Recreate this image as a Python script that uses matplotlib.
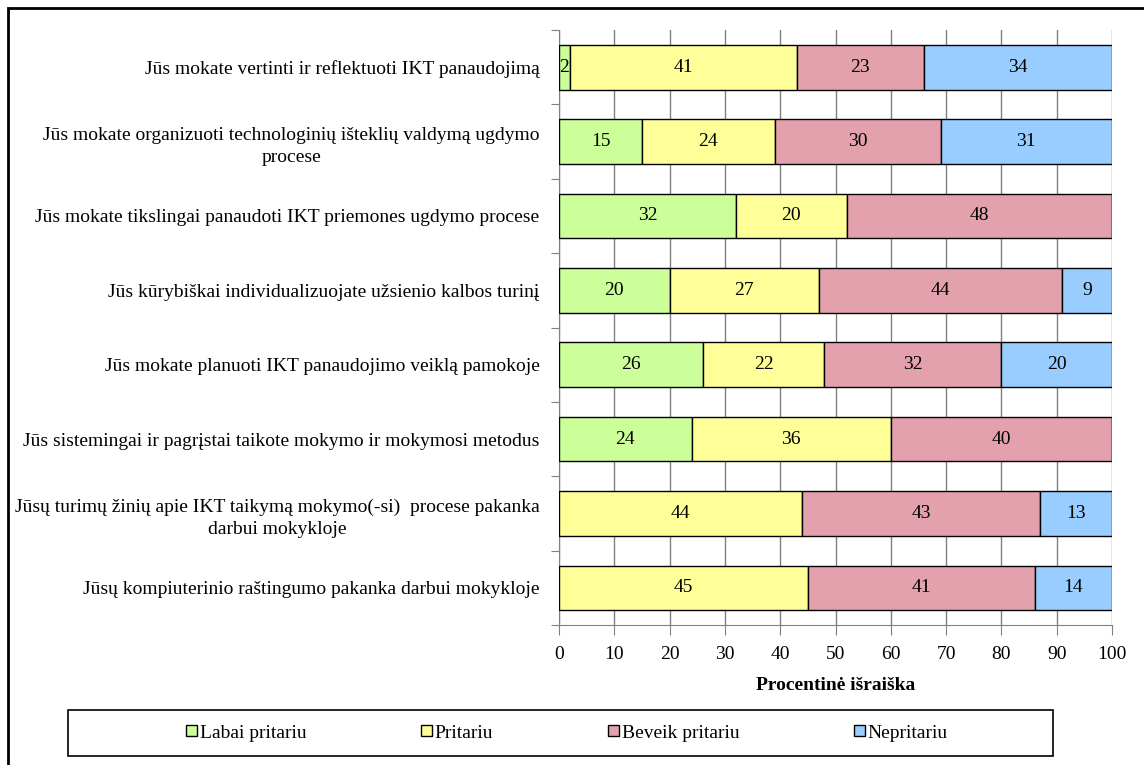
import matplotlib.pyplot as plt
import matplotlib.patches as mpatches
import numpy as np

plt.rcParams['font.family'] = ['Liberation Serif', 'DejaVu Serif']

categories = [
    "Jūs mokate vertinti ir reflektuoti IKT panaudojimą",
    "Jūs mokate organizuoti technologinių išteklių valdymą ugdymo\nprocese",
    "Jūs mokate tikslingai panaudoti IKT priemones ugdymo procese",
    "Jūs kūrybiškai individualizuojate užsienio kalbos turinį",
    "Jūs mokate planuoti IKT panaudojimo veiklą pamokoje",
    "Jūs sistemingai ir pagrįstai taikote mokymo ir mokymosi metodus",
    "Jūsų turimų žinių apie IKT taikymą mokymo(-si)  procese pakanka\ndarbui mokykloje",
    "Jūsų kompiuterinio raštingumo pakanka darbui mokykloje",
]
labai = [2, 15, 32, 20, 26, 24, 0, 0]
pritariu = [41, 24, 20, 27, 22, 36, 44, 45]
beveik = [23, 30, 48, 44, 32, 40, 43, 41]
nepritariu = [34, 31, 0, 9, 20, 0, 13, 14]

series = [labai, pritariu, beveik, nepritariu]
names = ["Labai pritariu", "Pritariu", "Beveik pritariu", "Nepritariu"]
colors = ["#ccff99", "#ffff99", "#e3a1ad", "#99ccff"]

FS = 14

fig = plt.figure(figsize=(11.44, 7.65), dpi=100)
ax = fig.add_axes([559 / 1144, 1 - 625 / 765, 553 / 1144, 595 / 765])

y = np.arange(len(categories))[::-1]
left = np.zeros(len(categories))
handles = []
for vals, name, col in zip(series, names, colors):
    vals = np.array(vals, dtype=float)
    bars = ax.barh(y, vals, left=left, height=0.6, color=col,
                   edgecolor="black", linewidth=1, zorder=3, label=name)
    handles.append(bars)
    for yi, l, v in zip(y, left, vals):
        if v > 0:
            ax.text(l + v / 2, yi, f"{int(v)}", ha="center", va="center",
                    fontsize=FS, zorder=4)
    left += vals

ax.set_xlim(0, 100)
ax.set_ylim(-0.5, len(categories) - 0.5)
ax.set_xticks(np.arange(0, 101, 10))
ax.tick_params(axis="x", labelsize=FS, length=7, color="#808080", pad=8)

ax.set_yticks(np.arange(len(categories) + 1) - 0.5)
ax.set_yticklabels([])
ax.set_yticks(y, minor=True)
ax.set_yticklabels(categories, minor=True, fontsize=FS)
for t in ax.get_yticklabels(minor=True):
    t.set_multialignment("center")
    t.set_linespacing(1.4)
ax.tick_params(axis="y", which="major", length=6, color="#808080")
ax.tick_params(axis="y", which="minor", length=0, pad=14)

ax.grid(axis="x", color="#808080", linewidth=1, zorder=0)
for s in ["top", "right"]:
    ax.spines[s].set_visible(False)
for s in ["left", "bottom"]:
    ax.spines[s].set_color("#808080")

ax.set_xlabel("Procentinė išraiška", fontsize=FS, fontweight="bold", labelpad=10)

leg = fig.legend(handles=handles, loc="center", ncol=4,
                 bbox_to_anchor=(567 / 1144, 1 - 733 / 765), frameon=False,
                 fontsize=FS, handlelength=0.55, handleheight=0.55,
                 handletextpad=0.15, columnspacing=5.9)

fig.patches.append(mpatches.Rectangle((68 / 1144, 1 - 756 / 765), 985 / 1144, 46 / 765,
                                      transform=fig.transFigure, fill=False,
                                      edgecolor="black", linewidth=1.2))
fig.patches.append(mpatches.Rectangle((8 / 1144, -0.1), 1.2, 1.1 - 8 / 765,
                                      transform=fig.transFigure, fill=False,
                                      edgecolor="black", linewidth=2))

fig.savefig("out.png", dpi=100)
